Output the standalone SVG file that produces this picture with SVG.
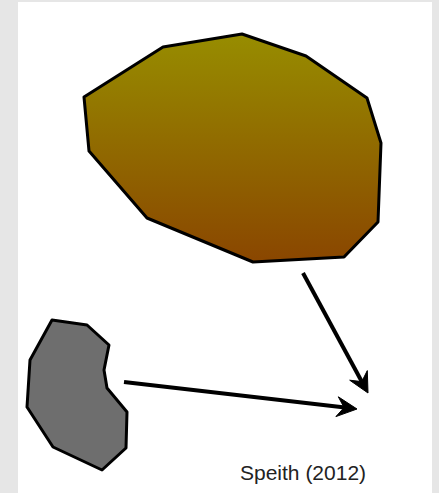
<svg xmlns="http://www.w3.org/2000/svg" width="439" height="493" viewBox="0 0 439 493">
<style>
.shape{stroke:#000;stroke-width:3;stroke-linejoin:round}
.conn{stroke:#000;stroke-width:4;fill:none}
.head{fill:#000;stroke:#000;stroke-width:1;stroke-linejoin:round}
.lbl{font-family:"Liberation Sans",Arial,sans-serif;font-size:21px;fill:#222}
</style>
<defs>
<linearGradient id="g1" x1="0" y1="0" x2="0" y2="1">
<stop offset="0" stop-color="#978d00"/>
<stop offset="1" stop-color="#8a4600"/>
</linearGradient>
</defs>
<rect width="439" height="493" fill="#e6e6e6"/>
<rect x="18" y="2" width="414" height="491" fill="#fff"/>
<g id="big">
<polygon class="shape" fill="url(#g1)" points="84,97 89,151 147,218 253,262 344,257 378,222 381,143 367,98 306,56 242,34 163,47"/>
</g>
<g id="small">
<polygon class="shape" fill="#6e6e6e" points="52,320 87,325 109,345 104,370 107,388 127,412 126,448 102,470 53,447 27,407 30,360"/>
</g>
<g id="connectors">
<line class="conn" x1="303" y1="273" x2="362" y2="382"/>
<path class="head" d="M368,393 L349.7,380.2 L361.8,381.6 L367.3,370.6 Z"/>
<line class="conn" x1="124" y1="382" x2="345" y2="407.5"/>
<path class="head" d="M357,409 L335.9,416.6 L344.1,407.5 L338.3,396.8 Z"/>
</g>
<text class="lbl" x="240" y="480">Speith (2012)</text>
</svg>
